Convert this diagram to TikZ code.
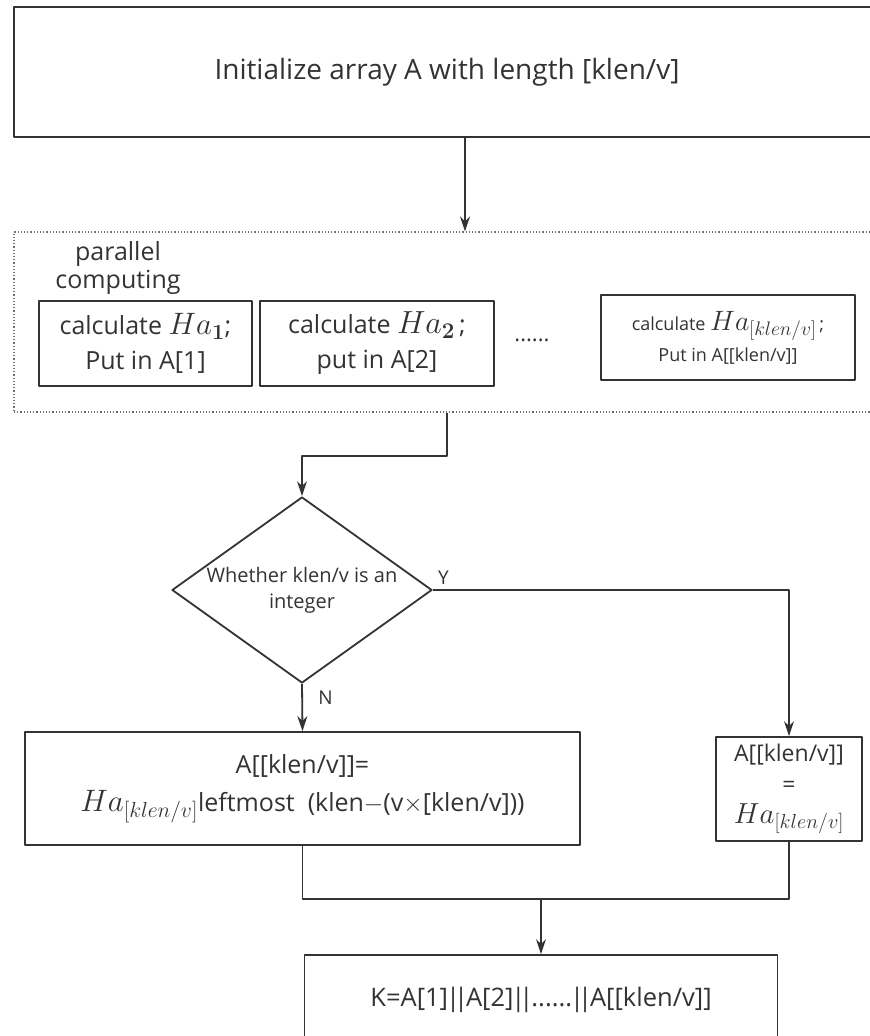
\RequirePackage{fix-cm}
\documentclass[tikz,border=0pt]{standalone}
\usepackage[no-math]{fontspec}
\setmainfont{Open Sans}
\usetikzlibrary{arrows.meta,shapes.geometric}
\definecolor{ink}{HTML}{333333}
\newcommand\fs[2]{\fontsize{#1}{#2}\selectfont}
\newcommand\Ha[2][30]{{\fontsize{#1}{#1}\selectfont$Ha_{#2}$}}
\newcommand\bars{\kern-0.08em|\kern-0.24em|\kern-0.08em}
\tikzset{
  every picture/.style={line join=round, >={Stealth[length=15pt,width=10pt]}},
  box/.style={draw=ink, line width=1.8pt, text=ink, align=center, inner sep=0pt},
  task/.style={box, minimum height=85pt, font=\fs{25}{35}},
  group/.style={draw=ink!70, line width=1.2pt, dotted, inner sep=0pt},
  cond/.style={box, diamond, shape aspect=1.4, minimum width=260pt, minimum height=186pt, font=\fs{20}{26}},
  flow/.style={draw=ink, line width=1.8pt},
  tag/.style={text=ink, font=\fs{19}{22}},
}
\begin{document}
\begin{tikzpicture}[x=1pt,y=-1pt]
\useasboundingbox (0,0) rectangle (870,1036);
\clip (0,0) rectangle (870,1036);
\node[box,minimum width=866pt,minimum height=130pt,font=\fs{28}{32}] (init) at (447,72) {Initialize array A with length [klen/v]};
\node[group,minimum width=866pt,minimum height=180pt] (par) at (447,322) {};
\node[align=center,inner sep=0pt,text=ink,font=\fs{25}{28}] (parlbl) at (118,268) {parallel\\computing};
\node[task,minimum width=213pt] (ha1) at (145.5,343.5) {calculate \Ha[31]{\mathbf{1}};\\Put in A[1]};
\node[task,minimum width=234pt] (ha2) at (377,343.5) {calculate \Ha[32]{\mathbf{2}}\,;\\put in A[2]};
\node[text=ink,font=\fs{22}{24}] (dots) at (532,340) {......};
\node[task,minimum width=254pt,font=\fs{18}{31}] (han) at (728,337.5) {calculate \Ha[28]{[klen/v]}\,;\\Put in A[[klen/v]]};
\node[cond] (check) at (302,590) {Whether klen/v is an\\integer};
\node[box,minimum width=555pt,minimum height=113pt,font=\fs{25}{38}] (rem) at (302.5,788.5) {A[[klen/v]]=\\\Ha[31]{[klen/v]}leftmost\ \ (klen$-$(v$\times$[klen/v]))};
\node[box,minimum width=146pt,minimum height=104pt,font=\fs{23}{31}] (eq) at (789,789) {A[[klen/v]]\\=\\\Ha[29]{[klen/v]}};
\node[box,minimum width=473pt,minimum height=90pt,font=\fs{25.5}{30}] (key) at (541,1000) {K=A[1]\bars A[2]\bars......\bars A[[klen/v]]};
\coordinate (join) at (541,899);
% connectors
\draw[flow,->] (465,0 |- init.south) -- (465,0 |- par.north);
\draw[flow,->] (par.south) -- ++(0,43) -| (check.north);
\draw[flow,->] (check.east) node[tag,above right=1pt]{Y} -| (eq.north);
\draw[flow,->] (check.south) -- node[tag,pos=0.3,right=12pt]{N} (rem.north);
\draw[flow] (rem.south) |- (join);
\draw[flow] (eq.south) |- (join);
\draw[flow,->] (join) -- (key.north);
\end{tikzpicture}
\end{document}
